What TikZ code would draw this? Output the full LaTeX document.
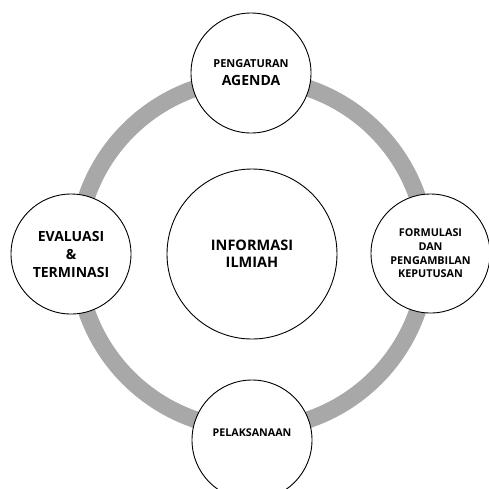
\documentclass[tikz,border=0pt]{standalone}
\usepackage{fontspec}
\setmainfont{Open Sans}
\definecolor{ringgray}{RGB}{168,168,168}
\begin{document}
\begin{tikzpicture}[x=1pt,y=1pt,
  stage/.style={circle,draw=black,line width=0.9pt,fill=white,minimum size=#1,inner sep=0pt,align=center},
  ring/.style={draw=ringgray,line width=17pt}]
\useasboundingbox (0,0) rectangle (489,-488);
\draw[ring] (252,-254) circle (175);
\node[stage=120pt,font=\bfseries\fontsize{11}{18}\selectfont] (top) at (251,-73) {PENGATURAN\\{\fontsize{14}{18}\selectfont AGENDA}};
\node[stage=120pt,font=\bfseries\fontsize{14}{18}\selectfont] (left) at (71,-254) {EVALUASI\\\&\\TERMINASI};
\node[stage=119pt,font=\bfseries\fontsize{10.8}{13.7}\selectfont] (right) at (430.5,-253.5) {FORMULASI\\DAN\\PENGAMBILAN\\KEPUTUSAN};
\node[stage=120pt] (bottom) at (252,-440) {};
\node[font=\bfseries\fontsize{10.7}{13}\selectfont] (bottomlabel) at (252,-433) {PELAKSANAAN};
\node[stage=170pt,font=\bfseries\fontsize{14.5}{17}\selectfont] (center) at (252,-254) {INFORMASI\\ILMIAH};
\end{tikzpicture}
\end{document}
